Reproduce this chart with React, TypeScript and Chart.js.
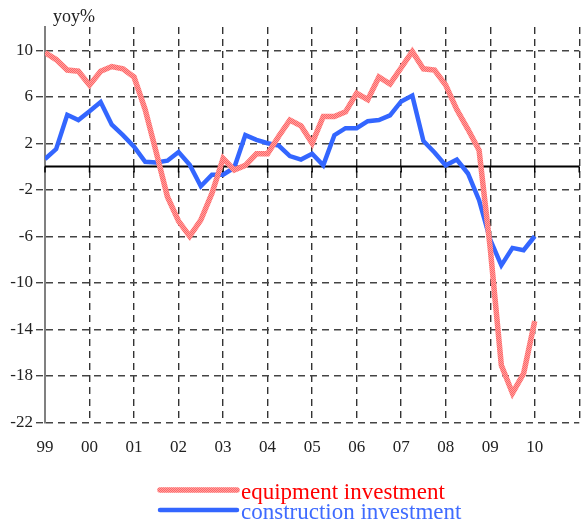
import React, { useEffect, useRef } from "react";
import { Chart, registerables } from "chart.js";

Chart.register(...registerables);

// quarterly, 1999Q1 .. 2010Q1
const equipment = [9.8, 9.2, 8.3, 8.2, 7.0, 8.2, 8.6, 8.4, 7.7, 4.9, 1.2, -2.6, -4.7, -6.0, -4.6, -2.3, 0.7, -0.3, 0.1, 1.1, 1.1, 2.6, 4.0, 3.5, 2.0, 4.3, 4.3, 4.7, 6.3, 5.75, 7.7, 7.1, 8.5, 9.9, 8.4, 8.3, 7.0, 4.9, 3.2, 1.4, -7.0, -17.1, -19.5, -17.8, -13.3];
const construction = [0.65, 1.5, 4.45, 4.0, 4.75, 5.55, 3.6, 2.7, 1.7, 0.4, 0.35, 0.5, 1.25, 0.15, -1.7, -0.7, -0.7, -0.1, 2.7, 2.3, 2.0, 1.8, 0.9, 0.6, 1.1, 0.1, 2.7, 3.3, 3.3, 3.9, 4.0, 4.4, 5.6, 6.1, 2.2, 1.2, 0.1, 0.6, -0.6, -2.9, -6.3, -8.5, -7.0, -7.2, -6.0];
const xLabels = ["99", "00", "01", "02", "03", "04", "05", "06", "07", "08", "09", "10", ""];
const yTicks = [-22, -18, -14, -10, -6, -2, 2, 6, 10];
const seriesNames = ["equipment investment", "construction investment"];
const yUnit = "yoy%";

const FONT = "'Liberation Serif', 'Times New Roman', serif";

function makePattern(): CanvasPattern | string {
  const c = document.createElement("canvas");
  c.width = 2;
  c.height = 2;
  const g = c.getContext("2d");
  if (!g) return "#ff8080";
  g.fillStyle = "#ffa0a0";
  g.fillRect(0, 0, 2, 2);
  g.fillStyle = "#ff6666";
  g.fillRect(0, 0, 1, 1);
  g.fillRect(1, 1, 1, 1);
  const p = g.createPattern(c, "repeat");
  return p || "#ff8080";
}

export default function App() {
  const ref = useRef<HTMLCanvasElement>(null);

  useEffect(() => {
    document.body.style.margin = "0";
    const canvas = ref.current;
    if (!canvas) return;
    const redPattern = makePattern();
    const blue = "#3366ff";
    const lineColors = [redPattern, blue];
    const lineWidths = [5.5, 4.5];
    const textColors = ["#ff0000", "#3f6bff"];

    const extras = {
      id: "extras",
      beforeDatasetsDraw(chart: any) {
        const ctx = chart.ctx;
        const x = chart.scales.x;
        const y = chart.scales.y;
        const y0 = y.getPixelForValue(0);
        ctx.save();
        ctx.strokeStyle = "#000";
        ctx.lineWidth = 2;
        ctx.beginPath();
        ctx.moveTo(chart.chartArea.left, y0);
        ctx.lineTo(chart.chartArea.right, y0);
        ctx.stroke();
        ctx.lineWidth = 1.5;
        for (let i = 0; i < xLabels.length; i++) {
          const px = x.getPixelForValue(i * 4);
          ctx.beginPath();
          ctx.moveTo(px, y0);
          ctx.lineTo(px, y0 + 6);
          ctx.stroke();
        }
        ctx.restore();
      },
      afterDraw(chart: any) {
        const ctx = chart.ctx;
        ctx.save();
        ctx.fillStyle = "#222";
        ctx.font = `18px ${FONT}`;
        ctx.textAlign = "left";
        ctx.textBaseline = "alphabetic";
        ctx.fillText(yUnit, 53, 22);
        chart.data.datasets.forEach((ds: any, i: number) => {
          const ly = 490 + i * 20;
          ctx.strokeStyle = lineColors[i];
          ctx.lineWidth = lineWidths[i];
          ctx.lineCap = "round";
          ctx.beginPath();
          ctx.moveTo(160, ly);
          ctx.lineTo(237, ly);
          ctx.stroke();
          ctx.fillStyle = textColors[i];
          ctx.font = `23px ${FONT}`;
          ctx.fillText(ds.label, 241, ly + 8.5);
        });
        ctx.restore();
      },
    };

    const chart = new Chart(canvas, {
      type: "line",
      data: {
        datasets: [
          {
            label: seriesNames[0],
            data: equipment.map((v, i) => ({ x: i, y: v })),
            borderColor: redPattern as any,
            borderWidth: 5.5,
            pointRadius: 0,
            tension: 0,
            fill: false,
          },
          {
            label: seriesNames[1],
            data: construction.map((v, i) => ({ x: i, y: v })),
            borderColor: blue,
            borderWidth: 4.5,
            pointRadius: 0,
            tension: 0,
            fill: false,
          },
        ],
      },
      options: {
        animation: false,
        responsive: false,
        layout: { padding: { top: 27, right: 2, left: 0, bottom: 0 } },
        plugins: { legend: { display: false }, tooltip: { enabled: false } },
        scales: {
          x: {
            type: "linear",
            min: 0,
            max: 48,
            afterBuildTicks(scale: any) {
              scale.ticks = xLabels.map((_, i) => ({ value: i * 4 }));
            },
            afterFit(scale: any) {
              scale.height = 101.7;
              scale.paddingLeft = 0;
              scale.paddingRight = 0;
            },
            ticks: {
              autoSkip: false,
              maxRotation: 0,
              padding: 15,
              color: "#222",
              font: { family: FONT, size: 17 },
              callback: (_v: any, i: number) => xLabels[i],
            },
            grid: {
              drawTicks: false,
              color: "#333",
              lineWidth: 1.4,
            },
            border: { display: false, dash: [7, 5] },
          },
          y: {
            type: "linear",
            min: -22,
            max: 12,
            afterBuildTicks(scale: any) {
              scale.ticks = yTicks.map((v) => ({ value: v }));
            },
            afterFit(scale: any) {
              scale.width = 45;
              scale.paddingTop = 0;
              scale.paddingBottom = 0;
            },
            ticks: {
              padding: 3,
              color: "#222",
              font: { family: FONT, size: 17 },
              callback: (v: any) => String(v),
            },
            grid: {
              drawTicks: true,
              tickLength: 9,
              color: "#444",
              lineWidth: 1.4,
              tickColor: "#444",
              tickBorderDash: [7, 5],
            } as any,
            border: { display: true, color: "#808080", width: 2 },
          },
        },
      } as any,
      plugins: [extras],
    });
    (chart.options.scales as any).x.border.dash = [7, 5];
    (chart.options.scales as any).y.border.dash = [7, 5];
    chart.update();

    return () => chart.destroy();
  }, []);

  return (
    <div style={{ width: 582, height: 524 }}>
      <canvas ref={ref} width={582} height={524} style={{ display: "block" }} />
    </div>
  );
}
